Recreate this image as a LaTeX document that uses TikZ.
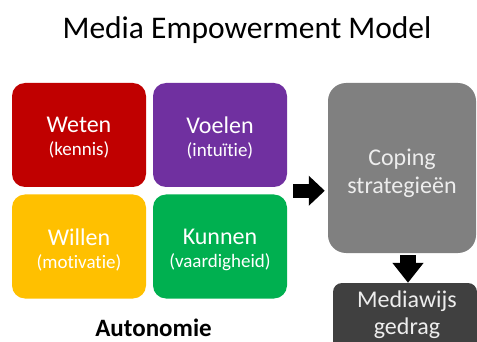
\documentclass[tikz,border=0pt]{standalone}
\usepackage{fontspec}
\setmainfont{Carlito}[Ligatures=NoCommon]
\usetikzlibrary{arrows.meta,calc}
\definecolor{cred}{HTML}{C00000}
\definecolor{cpurple}{HTML}{7030A0}
\definecolor{cyellow}{HTML}{FFC000}
\definecolor{cgreen}{HTML}{00B050}
\definecolor{cgray}{HTML}{808080}
\definecolor{cdark}{HTML}{404040}
\definecolor{clight}{HTML}{EDEDED}
\begin{document}
\begin{tikzpicture}[x=1pt,y=-1pt,
  quad/.style={rounded corners=13pt, minimum width=134pt, minimum height=104pt, inner sep=0pt},
  qtext/.style={text=white, align=center, inner sep=0pt, font=\fontsize{24}{24}\selectfont},
  blockarrow/.style={line width=14pt, -{Triangle[length=16pt,width=29pt]}},
  downarrow/.style={line width=16pt, -{Triangle[length=20pt,width=30pt]}}
]
\useasboundingbox (0,0) rectangle (477,342);
\clip (0,0) rectangle (477,342);
\node[font=\fontsize{31.5}{31.5}\selectfont, inner sep=0pt] (title) at (247,30) {Media Empowerment Model};

\node[quad, fill=cred] (weten) at (79,135) {};
\node[quad, fill=cpurple] (voelen) at (220,135) {};
\node[quad, fill=cyellow] (willen) at (79,246.5) {};
\node[quad, fill=cgreen] (kunnen) at (220,246.5) {};

\node[qtext] (weten-t) at ([yshift=-3pt]weten.center) {Weten\\[-1pt]{\fontsize{19}{19}\selectfont (kennis)}};
\node[qtext] (voelen-t) at ([yshift=-3pt]voelen.center) {Voelen\\[-1pt]{\fontsize{19}{19}\selectfont (intuïtie)}};
\node[qtext] (willen-t) at ([yshift=-3pt]willen.center) {Willen\\[-1pt]{\fontsize{19}{19}\selectfont (motivatie)}};
\node[qtext] (kunnen-t) at ([yshift=-3pt]kunnen.center) {Kunnen\\[-1pt]{\fontsize{19}{19}\selectfont (vaardigheid)}};

\node[font=\bfseries\fontsize{25}{25}\selectfont, inner sep=0pt] (autonomie) at (153.5,328) {Autonomie};

\node[fill=cgray, rounded corners=18pt, minimum width=148pt, minimum height=170pt, inner sep=0pt] (coping) at (402,168) {};
\node[text=clight, align=center, inner sep=0pt, font=\fontsize{24}{28}\selectfont] (coping-t) at ([yshift=-5pt]coping.center) {Coping\\strategieën};

\node[fill=cdark, rounded corners=9pt, minimum width=144pt, minimum height=80pt, inner sep=0pt] (mediawijs) at (405,323) {};
\node[text=clight, align=center, inner sep=0pt, font=\fontsize{24}{27}\selectfont, anchor=north] (mediawijs-t) at (407,291) {Mediawijs\\gedrag};

\coordinate (gm) at ($(voelen.south east)!0.5!(kunnen.north east)$);
\draw[blockarrow, shorten >=3pt] ([xshift=6pt]gm) -- (coping.west |- gm);
\draw[downarrow] ([xshift=6pt,yshift=-2pt]coping.south) -- ([xshift=3pt]mediawijs.north);
\end{tikzpicture}
\end{document}
